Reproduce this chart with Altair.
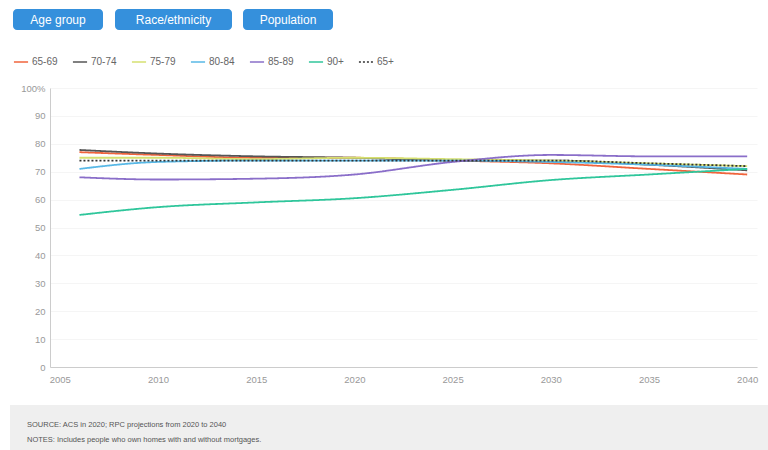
import altair as alt
import pandas as pd

years = [2006, 2010, 2015, 2020, 2025, 2030, 2035, 2040]
groups = ["65-69", "70-74", "75-79", "80-84", "85-89", "90+", "65+"]
v_65_69 = [77.0, 76.0, 75.0, 75.0, 74.0, 73.0, 71.0, 69.0]
v_70_74 = [77.8, 76.5, 75.5, 75.0, 74.0, 74.0, 72.5, 70.5]
v_75_79 = [75.0, 75.0, 74.5, 75.0, 74.5, 74.0, 73.0, 72.0]
v_80_84 = [71.0, 73.5, 74.0, 74.0, 74.0, 73.5, 72.5, 71.0]
v_85_89 = [68.0, 67.2, 67.5, 69.0, 73.5, 76.0, 75.5, 75.5]
v_90p = [54.5, 57.3, 59.0, 60.5, 63.5, 67.0, 69.0, 71.0]
v_65p = [74.0, 74.0, 74.0, 74.0, 74.0, 74.0, 73.0, 72.0]
series = [v_65_69, v_70_74, v_75_79, v_80_84, v_85_89, v_90p, v_65p]
colors = ["#f0643c", "#555555", "#d6e070", "#58b8e6", "#8a6ec9", "#2fc69b", "#333333"]
dashes = [[1, 0]] * 6 + [[2, 2]]

x_ticks = [2005, 2010, 2015, 2020, 2025, 2030, 2035, 2040]
y_ticks = list(range(0, 101, 10))
buttons = ["Age group", "Race/ethnicity", "Population"]
notes = ["SOURCE: ACS in 2020; RPC projections from 2020 to 2040",
         "NOTES: Includes people who own homes with and without mortgages."]

rows = []
for g, vals in zip(groups, series):
    for yr, v in zip(years, vals):
        rows.append({"group": g, "year": yr, "value": v})
df = pd.DataFrame(rows)

FONT = "Liberation Sans"

legend = alt.Legend(
    title=None, orient="none", legendX=-37, legendY=-34, direction="horizontal",
    symbolType="stroke", symbolSize=200, symbolStrokeWidth=1.6, labelFontSize=10,
    labelColor="#666666", labelFont=FONT, columnPadding=11, labelOffset=3,
)

lines = alt.Chart(df).mark_line(strokeWidth=1.8, interpolate="monotone").encode(
    x=alt.X("year:Q", scale=alt.Scale(domain=[2004.5, 2040.5], nice=False, zero=False),
            axis=alt.Axis(values=x_ticks, format="d", title=None, grid=False, ticks=False,
                          domainColor="#cccccc", labelColor="#999999", labelFontSize=9.5,
                          labelFont=FONT, labelPadding=7)),
    y=alt.Y("value:Q", scale=alt.Scale(domain=[0, 100], nice=False),
            axis=alt.Axis(values=y_ticks, title=None, ticks=False, grid=True, gridColor="#f5f5f5",
                          labelExpr="datum.value == 100 ? '100%' : datum.label",
                          domainColor="#cccccc", labelColor="#999999", labelFontSize=9.5,
                          labelFont=FONT, labelPadding=5)),
    color=alt.Color("group:N", scale=alt.Scale(domain=groups, range=colors), legend=legend),
    strokeDash=alt.StrokeDash("group:N", scale=alt.Scale(domain=groups, range=dashes), legend=legend),
)

one = pd.DataFrame({"k": [0]})
layers = []
btn_x = [(-37, 53), (65, 182), (193, 283)]
for name, (x0, x1) in zip(buttons, btn_x):
    b = alt.Chart(pd.DataFrame({"label": [name]}))
    layers.append(b.mark_rect(color="#3590dc", cornerRadius=4).encode(
        x=alt.value(x0), x2=alt.value(x1), y=alt.value(-79), y2=alt.value(-58)))
    layers.append(b.mark_text(color="white", fontSize=12, font=FONT).encode(
        x=alt.value((x0 + x1) / 2), y=alt.value(-68), text="label:N"))

box = alt.Chart(one).mark_rect(color="#efefef").encode(
    x=alt.value(-40), x2=alt.value(718), y=alt.value(317), y2=alt.value(362))
note_layers = []
for i, t in enumerate(notes):
    note_layers.append(alt.Chart(pd.DataFrame({"t": [t]})).mark_text(
        align="left", fontSize=7.5, color="#555555", font=FONT).encode(
        x=alt.value(-23), y=alt.value(337 + 15 * i), text="t:N"))

chart = alt.layer(box, *note_layers, *layers, lines).properties(
    width=707, height=279,
    padding={"left": 50, "top": 88, "right": 11, "bottom": 83},
    autosize=alt.AutoSizeParams(type="none"),
    background="white",
).configure_view(stroke=None)

chart.save("out.html", embed_options={"renderer": "svg", "actions": False})
